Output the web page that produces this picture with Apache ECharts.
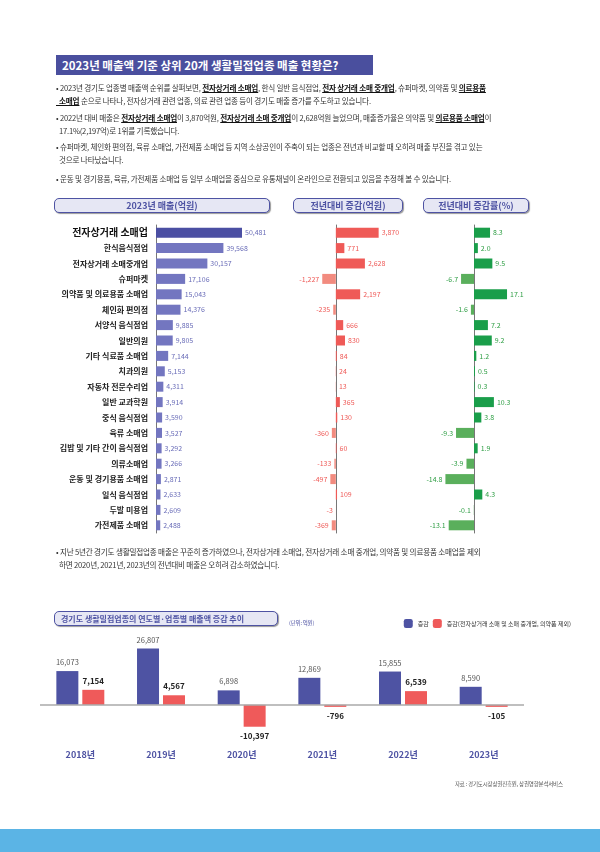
<!DOCTYPE html>
<html>
<head>
<meta charset="utf-8">
<script src="https://cdn.jsdelivr.net/npm/echarts@6/dist/echarts.min.js"></script>
<style>
body{margin:0;width:600px;height:852px;background:#fff;font-family:"Noto Sans CJK KR",sans-serif;overflow:hidden;position:relative}
#Chart{position:absolute;left:0;top:0;width:600px;height:852px}
.t{position:absolute;z-index:2;color:#333;font-size:7.6px;line-height:12.5px;letter-spacing:-0.2px}
.t b{text-decoration:underline;color:#111}
.pill{position:absolute;z-index:2;border:1.5px solid #4e53a3;border-radius:5px;background:#e6e7f4;color:#4e53a3;font-weight:bold;font-size:9px;text-align:center;line-height:13px;box-shadow:1px 1px 1px #999;white-space:nowrap}
</style>
</head>
<body>
<div id="Chart"></div>
<div style="position:absolute;z-index:2;left:56px;top:55px;width:317px;height:20px;background:#4a4f9e;color:#fff;font-weight:bold;font-size:11.5px;line-height:20px;padding-left:6px;box-sizing:border-box">2023년 매출액 기준 상위 20개 생활밀접업종 매출 현황은?</div>
<div class="t" style="left:56px;top:82px;width:500px">• 2023년 경기도 업종별 매출액 순위를 살펴보면, <b>전자상거래 소매업</b>, 한식 일반 음식점업, <b>전자 상거래 소매 중개업</b>, 슈퍼마켓, 의약품 및 <b>의료용품<br>&nbsp;&nbsp;소매업</b> 순으로 나타나, 전자상거래 관련 업종, 의료 관련 업종 등이 경기도 매출 증가를 주도하고 있습니다.</div>
<div class="t" style="left:56px;top:112px;width:500px">• 2022년 대비 매출은 <b>전자상거래 소매업</b>이 3,870억원, <b>전자상거래 소매 중개업</b>이 2,628억원 늘었으며, 매출증가율은 의약품 및 <b>의료용품 소매업</b>이<br>&nbsp;&nbsp;17.1%(2,197억)로 1위를 기록했습니다.</div>
<div class="t" style="left:56px;top:141px;width:500px">• 슈퍼마켓, 체인화 편의점, 육류 소매업, 가전제품 소매업 등 지역 소상공인이 주축이 되는 업종은 전년과 비교할 때 오히려 매출 부진을 겪고 있는<br>&nbsp;&nbsp;것으로 나타났습니다.</div>
<div class="t" style="left:56px;top:173px;width:500px">• 운동 및 경기용품, 육류, 가전제품 소매업 등 일부 소매업을 중심으로 유통채널이 온라인으로 전환되고 있음을 추정해 볼 수 있습니다.</div>
<div class="pill" style="left:54px;top:198px;width:214px">2023년 매출(억원)</div>
<div class="pill" style="left:293px;top:198px;width:108px">전년대비 증감(억원)</div>
<div class="pill" style="left:423px;top:198px;width:104px">전년대비 증감률(%)</div>
<div class="t" style="left:56px;top:546px;width:500px">• 지난 5년간 경기도 생활밀접업종 매출은 꾸준히 증가하였으나, 전자상거래 소매업, 전자상거래 소매 중개업, 의약품 및 의료용품 소매업을 제외<br>&nbsp;&nbsp;하면 2020년, 2021년, 2023년의 전년대비 매출은 오히려 감소하였습니다.</div>
<div class="pill" style="left:54px;top:611px;width:216px;text-align:left;padding-left:6px;font-size:8px">경기도 생활밀접업종의 연도별·업종별 매출액 증감 추이</div>
<div class="t" style="left:289px;top:617px;font-size:5.5px;color:#4e53a3">(단위: 억원)</div>
<div class="t" style="left:455px;top:778px;font-size:5.5px;color:#555">자료 : 경기도시장상권진흥원, 상권영향분석서비스</div>
<div style="position:absolute;left:0;top:829px;width:600px;height:23px;background:#5bb4e5"></div>
<script>
var categories = ["전자상거래 소매업","한식음식점업","전자상거래 소매중개업","슈퍼마켓","의약품 및 의료용품 소매업","체인화 편의점","서양식 음식점업","일반의원","기타 식료품 소매업","치과의원","자동차 전문수리업","일반 교과학원","중식 음식점업","육류 소매업","김밥 및 기타 간이 음식점업","의류소매업","운동 및 경기용품 소매업","일식 음식점업","두발 미용업","가전제품 소매업"];
var sales2023 = [50481,39568,30157,17106,15043,14376,9885,9805,7144,5153,4311,3914,3590,3527,3292,3266,2871,2633,2609,2488];
var changeAmt = [3870,771,2628,-1227,2197,-235,666,830,84,24,13,365,130,-360,60,-133,-497,109,-3,-369];
var changePct = [8.3,2.0,9.5,-6.7,17.1,-1.6,7.2,9.2,1.2,0.5,0.3,10.3,3.8,-9.3,1.9,-3.9,-14.8,4.3,-0.1,-13.1];
var years = ["2018년","2019년","2020년","2021년","2022년","2023년"];
var totalChange = [16073,26807,6898,12869,15855,8590];
var exclChange = [7154,4567,-10397,-796,6539,-105];

var fmt = function (v) { return echarts.format.addCommas(v); };
var myChart = echarts.init(document.getElementById("Chart"));
var rowTop = 225, rowH = 308;
function catAxis(idx, show) {
    return {
        gridIndex: idx, type: 'category', data: categories, inverse: true,
        axisTick: { show: false },
        axisLine: { show: true, lineStyle: { color: '#777', width: 1 } },
        axisLabel: {
            show: show, fontSize: 8, fontWeight: 'bold', color: '#222', margin: 8,
            formatter: function (v, i) { return i === 0 ? '{a|' + v + '}' : v; },
            rich: { a: { fontSize: 10, fontWeight: 'bold', color: '#111' } }
        }
    };
}
function valAxis(idx, min, max) {
    return { gridIndex: idx, type: 'value', min: min, max: max, show: false };
}
var option = {
    animation: false,
    textStyle: { fontFamily: 'Noto Sans CJK KR' },
    legend: {
        right: 24, top: 614, itemWidth: 9, itemHeight: 9, itemGap: 4,
        textStyle: { fontSize: 6, color: '#333' },
        data: ['증감', '증감(전자상거래 소매 및 소매 중개업, 의약품 제외)']
    },
    grid: [
        { left: 156, top: rowTop, width: 100, height: rowH },
        { left: 296, top: rowTop, width: 104, height: rowH },
        { left: 440, top: rowTop, width: 85, height: rowH },
        { left: 40, top: 646, width: 484, height: 82 }
    ],
    xAxis: [
        valAxis(0, 0, 58700),
        valAxis(1, -3600, 5800),
        valAxis(2, -17.6, 26.4),
        { gridIndex: 3, type: 'category', data: years, axisTick: { show: false },
          axisLine: { show: true, onZero: false, lineStyle: { color: 'transparent' } },
          axisLabel: { fontSize: 9, fontWeight: 'bold', color: '#4e53a3', margin: 22 }, position: 'bottom' }
    ],
    yAxis: [
        catAxis(0, true), catAxis(1, false), catAxis(2, false),
        { gridIndex: 3, type: 'value', min: -11000, max: 28000, show: false }
    ],
    series: [
        {
            type: 'bar', xAxisIndex: 0, yAxisIndex: 0, barWidth: 10,
            data: sales2023.map(function (v, i) {
                return { value: v, itemStyle: { color: i === 0 ? '#4b4fa3' : '#7376c0' } };
            }),
            label: { show: true, position: 'right', distance: 3, fontSize: 7, color: '#6a6db8', formatter: function (p) { return fmt(p.value); } }
        },
        {
            type: 'bar', xAxisIndex: 1, yAxisIndex: 1, barWidth: 10,
            data: changeAmt.map(function (v) {
                return { value: v, itemStyle: { color: v < 0 ? '#f28b7f' : '#ef5a57' },
                         label: { position: v < 0 ? 'left' : 'right' } };
            }),
            label: { show: true, distance: 3, fontSize: 7, color: '#ef5a57', formatter: function (p) { return fmt(p.value); } }
        },
        {
            type: 'bar', xAxisIndex: 2, yAxisIndex: 2, barWidth: 10,
            data: changePct.map(function (v) {
                return { value: v, itemStyle: { color: v < 0 ? '#5aaf5c' : '#1a9e4a' },
                         label: { position: v < 0 ? 'left' : 'right' } };
            }),
            label: { show: true, distance: 3, fontSize: 7, color: '#2e9e44', formatter: function (p) { return p.value.toFixed(1); } }
        },
        {
            name: '증감', type: 'bar', xAxisIndex: 3, yAxisIndex: 3, barWidth: 22, barGap: '18%',
            itemStyle: { color: '#4e53a3' }, data: totalChange,
            label: { show: true, position: 'top', fontSize: 7.5, color: '#555', formatter: function (p) { return fmt(p.value); } },
            markLine: { silent: true, symbol: 'none', label: { show: false }, lineStyle: { color: '#aaa', type: 'solid', width: 1.5 }, data: [{ yAxis: 0 }] }
        },
        {
            name: '증감(전자상거래 소매 및 소매 중개업, 의약품 제외)', type: 'bar', xAxisIndex: 3, yAxisIndex: 3, barWidth: 22,
            barMinHeight: 2,
            itemStyle: { color: '#ef5a5a' },
            data: exclChange.map(function (v) {
                return { value: v, label: { position: v < 0 ? 'bottom' : 'top' } };
            }),
            label: { show: true, fontSize: 8, fontWeight: 'bold', color: '#222', formatter: function (p) { return fmt(p.value); } }
        }
    ]
};
myChart.setOption(option);
window.addEventListener("resize", function () {
    myChart.resize();
});
</script>
</body>
</html>
